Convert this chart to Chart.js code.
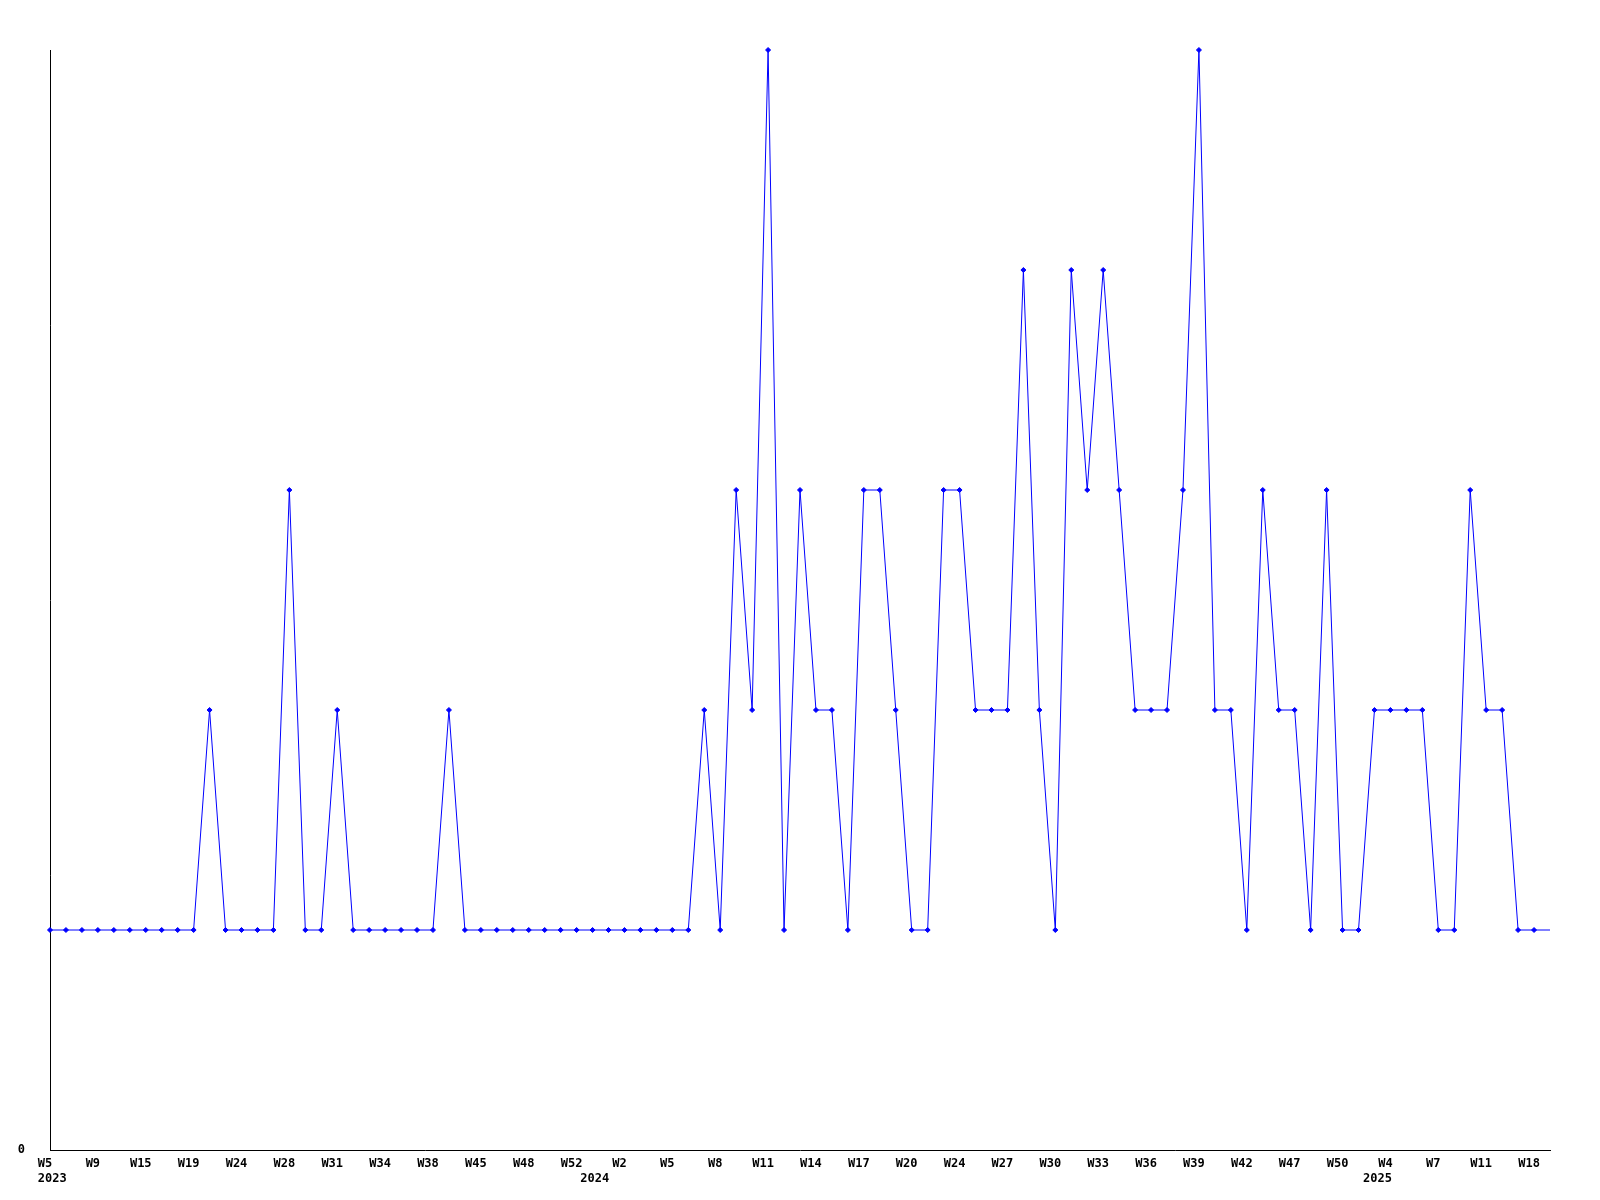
<!DOCTYPE html>
<html>
<head>
<meta charset="utf-8">
<title>Weekly chart</title>
<script src="https://cdn.jsdelivr.net/npm/chart.js@4.4.1/dist/chart.umd.min.js"></script>
<style>
  html, body { margin: 0; padding: 0; background: #ffffff; }
  #wrap { width: 1600px; height: 1200px; }
</style>
</head>
<body>
<div id="wrap"><canvas id="chart" width="1600" height="1200"></canvas></div>
<script>
// 每週數值 (one per week entry)
const weekValues = [
    1, 1, 1, 1, 1, 1, 1, 1, 1, 1,
    2, 1, 1, 1, 1, 3, 1, 1, 2, 1,
    1, 1, 1, 1, 1, 2, 1, 1, 1, 1,
    1, 1, 1, 1, 1, 1, 1, 1, 1, 1,
    1, 2, 1, 3, 2, 5, 1, 3, 2, 2,
    1, 3, 3, 2, 1, 1, 3, 3, 2, 2,
    2, 4, 2, 1, 4, 3, 4, 3, 2, 2,
    2, 3, 5, 2, 2, 1, 3, 2, 2, 1,
    3, 1, 1, 2, 2, 2, 2, 1, 1, 3,
    2, 2, 1, 1, 1
];

// x 軸標籤 (every third week entry)
const weekLabels = [
    'W5', 'W9', 'W15', 'W19', 'W24', 'W28', 'W31', 'W34', 'W38', 'W45', 'W48', 'W52',
    'W2', 'W5', 'W8', 'W11', 'W14', 'W17', 'W20', 'W24', 'W27', 'W30', 'W33', 'W36',
    'W39', 'W42', 'W47', 'W50', 'W4', 'W7', 'W11', 'W18'
];
const tickEvery = 3;

// 年份標籤 (second row, position in week-entry units)
const yearLabels = ['2023', '2024', '2025'];
const yearAt = [0.45, 34.45, 83.5];

const yTicks = [0];

const points = weekValues.map((v, i) => ({ x: i, y: v }));
const lastIndex = weekValues.length - 1;

function labelFor(value) {
    const y = yearAt.indexOf(value);
    if (y >= 0) return ['', yearLabels[y]];
    return weekLabels[Math.round(value / tickEvery)];
}

const ctx = document.getElementById('chart').getContext('2d');
const chart = new Chart(ctx, {
    type: 'line',
    data: {
        datasets: [{
            data: points,
            borderColor: '#0000ff',
            backgroundColor: '#0000ff',
            borderWidth: 1,
            tension: 0,
            clip: false,
            pointStyle: 'rectRot',
            pointRadius: points.map((p, i) => i === lastIndex ? 0 : 2.5),
            pointBorderWidth: 1,
            fill: false
        }]
    },
    options: {
        responsive: false,
        animation: false,
        events: [],
        layout: {
            padding: { top: 50, right: 50, left: 0, bottom: 0 }
        },
        plugins: {
            legend: { display: false },
            tooltip: { enabled: false }
        },
        scales: {
            x: {
                type: 'linear',
                min: 0,
                max: lastIndex,
                afterBuildTicks: axis => {
                    const vals = weekLabels.map((t, i) => i * tickEvery).concat(yearAt);
                    vals.sort((a, b) => a - b);
                    axis.ticks = vals.map(v => ({ value: v }));
                },
                afterFit: axis => { axis.height = 50; },
                grid: { display: false, drawTicks: false },
                border: { display: true, color: '#000000', width: 1 },
                ticks: {
                    autoSkip: false,
                    maxRotation: 0,
                    padding: 6,
                    labelOffset: -5,
                    color: '#000000',
                    font: { family: 'DejaVu Sans Mono', size: 12, weight: 'bold', lineHeight: 1.25 },
                    callback: value => labelFor(value)
                }
            },
            y: {
                min: 0,
                max: 5,
                afterBuildTicks: axis => {
                    axis.ticks = yTicks.map(v => ({ value: v }));
                },
                afterFit: axis => { axis.width = 50; },
                grid: { display: false, drawTicks: false },
                border: { display: true, color: '#000000', width: 1 },
                ticks: {
                    padding: 25,
                    color: '#000000',
                    font: { family: 'DejaVu Sans Mono', size: 12, weight: 'bold' }
                }
            }
        }
    }
});
</script>
</body>
</html>
